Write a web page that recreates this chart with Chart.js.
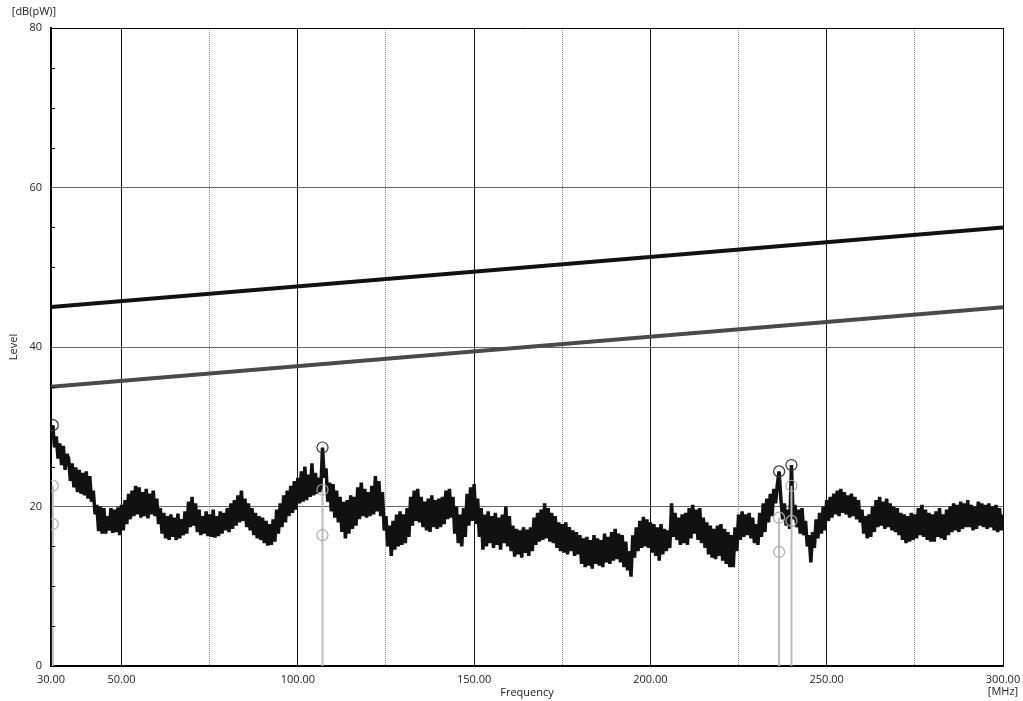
<!DOCTYPE html>
<html>
<head>
<meta charset="utf-8">
<script src="https://cdn.jsdelivr.net/npm/chart.js@4.4.1/dist/chart.umd.min.js"></script>
<style>
  html, body { margin: 0; padding: 0; background: #fff; }
</style>
</head>
<body>
<canvas id="chart" width="1023" height="701"></canvas>
<script>
// Axis ticks
const xTickValues = [30, 50, 75, 100, 125, 150, 175, 200, 225, 250, 275, 300];
const xLabelled = [30, 50, 100, 150, 200, 250, 300];
const yMinorTicks = [5, 10, 15, 25, 30, 35, 45, 50, 55, 65, 70, 75];

// Limit lines (level at 30 and 300 MHz)
const limitFreqs = [30, 300];
const limitUpper = [45, 55];
const limitLower = [35, 45];

// Measured trace, one reading every 0.5 MHz from 30 MHz
const traceStartMHz = 30;
const traceStepMHz = 0.5;
const traceLevels = [
  28.8, 30.2, 27.4, 28.8, 26.0, 27.9, 25.2, 27.6, 24.6, 26.6, // 30
  26.0, 23.2, 25.4, 22.4, 24.9, 21.8, 24.6, 21.6, 24.2, 21.4, // 35
  24.4, 21.0, 23.8, 20.6, 22.0, 19.0, 20.2, 16.9, 20.0, 16.6, // 40
  19.8, 16.6, 18.8, 17.0, 19.8, 16.7, 19.6, 16.8, 19.9, 16.4, // 45
  20.2, 17.0, 20.8, 17.8, 21.6, 18.4, 22.0, 18.8, 22.6, 19.0, // 50
  22.4, 18.6, 21.8, 18.8, 22.2, 18.5, 21.6, 19.0, 22.0, 18.8, // 55
  21.0, 17.8, 19.8, 16.6, 19.2, 16.0, 18.8, 15.8, 19.0, 16.2, // 60
  18.6, 15.8, 19.1, 16.0, 18.4, 16.4, 19.4, 16.6, 20.6, 17.4, // 65
  21.2, 17.6, 20.4, 16.8, 19.6, 16.4, 18.8, 16.6, 19.4, 16.3, // 70
  19.0, 16.2, 19.6, 16.1, 18.8, 16.3, 19.4, 16.6, 19.2, 17.0, // 75
  19.8, 16.8, 20.4, 17.2, 20.8, 17.6, 21.4, 18.0, 22.0, 18.2, // 80
  21.0, 17.4, 20.4, 17.0, 19.8, 16.4, 19.2, 16.0, 18.8, 15.8, // 85
  18.6, 15.4, 18.2, 15.1, 17.8, 15.2, 18.4, 15.6, 19.6, 16.6, // 90
  20.4, 17.4, 21.4, 18.0, 22.0, 18.8, 22.6, 19.2, 23.2, 19.6, // 95
  23.6, 20.4, 24.4, 20.6, 25.0, 20.8, 24.0, 21.2, 25.4, 21.4, // 100
  24.2, 21.6, 23.6, 21.8, 27.4, 23.6, 24.8, 20.6, 23.0, 19.4, // 105
  22.8, 18.6, 22.0, 18.0, 21.2, 16.8, 20.6, 16.0, 20.8, 16.6, // 110
  21.4, 17.2, 21.2, 17.6, 22.4, 18.4, 23.0, 18.8, 22.2, 18.6, // 115
  21.8, 18.8, 22.6, 19.0, 23.8, 19.4, 23.2, 18.8, 21.8, 17.0, // 120
  18.8, 15.0, 17.6, 13.8, 18.2, 14.6, 19.0, 15.0, 19.4, 15.2, // 125
  19.0, 15.4, 19.8, 16.2, 21.2, 17.6, 22.0, 18.2, 22.2, 18.0, // 130
  21.2, 17.4, 20.6, 17.0, 21.0, 16.8, 21.4, 17.4, 20.8, 17.2, // 135
  21.0, 17.4, 21.2, 17.8, 22.0, 18.4, 22.2, 18.6, 21.2, 16.6, // 140
  20.0, 15.4, 19.0, 15.0, 19.8, 16.2, 21.6, 17.6, 22.4, 18.2, // 145
  22.8, 17.8, 21.0, 16.2, 19.8, 14.6, 19.0, 15.0, 19.4, 15.4, // 150
  18.8, 14.8, 19.2, 15.2, 18.6, 14.6, 19.0, 15.4, 20.0, 15.0, // 155
  18.8, 14.4, 17.6, 13.7, 17.2, 14.0, 17.0, 13.6, 17.4, 14.2, // 160
  17.1, 13.8, 17.4, 14.4, 18.6, 15.2, 19.2, 15.6, 19.6, 15.8, // 165
  20.4, 16.0, 19.8, 15.6, 19.2, 15.4, 18.8, 14.8, 18.0, 14.4, // 170
  17.8, 14.2, 18.0, 14.0, 17.4, 14.4, 17.0, 13.8, 16.8, 14.0, // 175
  16.4, 12.8, 16.0, 12.4, 16.2, 12.6, 15.8, 12.2, 16.4, 12.8, // 180
  16.0, 12.6, 15.8, 12.4, 16.6, 13.0, 16.2, 12.8, 16.8, 13.2, // 185
  17.2, 13.4, 16.6, 13.0, 16.4, 12.4, 15.6, 12.0, 14.4, 11.2, // 190
  16.4, 13.6, 17.4, 14.4, 18.2, 14.8, 18.7, 15.0, 18.4, 14.8, // 195
  18.0, 14.2, 17.8, 13.8, 17.4, 13.2, 17.8, 14.0, 17.2, 14.4, // 200
  17.0, 14.8, 20.4, 16.2, 19.2, 15.8, 18.6, 15.2, 19.0, 15.4, // 205
  19.2, 15.2, 19.8, 16.0, 20.2, 16.6, 19.6, 15.8, 19.8, 15.4, // 210
  18.6, 14.8, 18.0, 14.0, 17.6, 13.6, 17.2, 13.4, 17.6, 13.8, // 215
  17.8, 13.2, 17.2, 12.8, 16.8, 12.4, 16.4, 12.4, 17.4, 14.4, // 220
  19.0, 15.8, 19.4, 16.2, 19.0, 16.4, 19.2, 16.0, 18.6, 15.4, // 225
  17.8, 15.2, 19.2, 16.2, 20.4, 16.8, 21.0, 18.0, 21.6, 18.8, // 230
  22.2, 20.4, 22.8, 24.4, 21.0, 18.4, 20.4, 17.6, 19.6, 17.2, // 235
  25.2, 18.4, 20.2, 17.4, 19.6, 16.6, 19.8, 16.4, 18.2, 15.0, // 240
  16.4, 13.0, 16.8, 14.8, 18.4, 16.0, 19.2, 16.6, 20.0, 17.0, // 245
  20.8, 18.2, 21.2, 18.6, 21.6, 19.0, 22.0, 18.8, 22.2, 19.2, // 250
  21.8, 19.0, 21.4, 18.6, 21.6, 18.8, 21.2, 18.4, 20.8, 18.0, // 255
  19.6, 16.6, 18.8, 16.0, 19.0, 16.2, 20.0, 16.8, 20.8, 17.4, // 260
  21.2, 17.6, 20.6, 17.2, 21.0, 17.4, 20.4, 17.0, 20.0, 16.8, // 265
  19.8, 16.4, 19.2, 15.8, 19.0, 15.4, 18.8, 15.6, 19.2, 15.8, // 270
  19.0, 16.0, 19.8, 16.4, 20.2, 16.2, 19.6, 15.8, 19.2, 15.6, // 275
  19.0, 15.6, 19.4, 16.2, 19.8, 16.0, 19.0, 15.8, 19.6, 16.4, // 280
  20.0, 16.8, 20.4, 17.0, 20.2, 16.8, 20.6, 17.2, 20.4, 17.4, // 285
  20.8, 17.4, 20.2, 17.0, 20.0, 17.2, 20.6, 17.6, 20.4, 17.4, // 290
  20.2, 17.2, 20.4, 17.4, 20.0, 17.0, 20.2, 16.8, 19.8, 17.0, // 295
  19.0                                                        // 300
];

// Final measurement markers
const markerFreqs = [30.5, 107, 236.5, 240];
const peakLevels = [30.2, 27.4, 24.4, 25.2];
const qpLevels = [22.6, 22.1, 18.6, 22.6];
const avgLevels = [17.8, 16.4, 14.3, 18.2];

const textColor = '#222';
const fontFamily = '"Open Sans", "Noto Sans", sans-serif';
const font11 = { family: fontFamily, size: 11 };

const tracePoints = traceLevels.map((v, i) => ({ x: traceStartMHz + i * traceStepMHz, y: v }));
const stemPoints = [];
markerFreqs.forEach((f, i) => {
    stemPoints.push({ x: f, y: 0 }, { x: f, y: Math.max(qpLevels[i], avgLevels[i]) }, { x: f, y: null });
});
const toPoints = levels => markerFreqs.map((f, i) => ({ x: f, y: levels[i] }));

// extra texts and the small minor ticks on the level axis
const extrasPlugin = {
    id: 'extras',
    afterDraw(chart) {
        const { ctx, scales: { x, y } } = chart;
        ctx.save();
        ctx.strokeStyle = '#000';
        ctx.lineWidth = 1;
        yMinorTicks.forEach(v => {
            const py = Math.round(y.getPixelForValue(v)) + 0.5;
            ctx.beginPath();
            ctx.moveTo(x.left, py);
            ctx.lineTo(x.left + 4, py);
            ctx.stroke();
        });
        ctx.fillStyle = textColor;
        ctx.font = '11px ' + fontFamily;
        ctx.textAlign = 'center';
        ctx.textBaseline = 'middle';
        ctx.fillText('[dB(pW)]', 34, 12);
        ctx.fillText('[MHz]', x.getPixelForValue(300), 692);
        ctx.restore();
    }
};

new Chart(document.getElementById('chart').getContext('2d'), {
    type: 'scatter',
    data: {
        datasets: [
            {
                data: toPoints(peakLevels), showLine: false, order: 0,
                pointRadius: 5.5, pointBorderWidth: 1.2, pointBorderColor: '#333', pointBackgroundColor: 'rgba(0,0,0,0)'
            },
            {
                data: toPoints(qpLevels), showLine: false, order: 0,
                pointRadius: 5.5, pointBorderWidth: 1.2, pointBorderColor: '#aaa', pointBackgroundColor: 'rgba(0,0,0,0)'
            },
            {
                data: toPoints(avgLevels), showLine: false, order: 0,
                pointRadius: 5.5, pointBorderWidth: 1.2, pointBorderColor: '#aaa', pointBackgroundColor: 'rgba(0,0,0,0)'
            },
            {
                data: stemPoints, showLine: true, spanGaps: false, order: 1,
                borderColor: '#bbb', borderWidth: 2, pointRadius: 0
            },
            {
                data: tracePoints, showLine: true, order: 2,
                borderColor: '#111', borderWidth: 3.5, borderJoinStyle: 'bevel', pointRadius: 0, tension: 0
            },
            {
                data: limitFreqs.map((f, i) => ({ x: f, y: limitUpper[i] })), showLine: true, order: 3,
                borderColor: '#111', borderWidth: 4, pointRadius: 0
            },
            {
                data: limitFreqs.map((f, i) => ({ x: f, y: limitLower[i] })), showLine: true, order: 3,
                borderColor: '#4a4a4a', borderWidth: 4, pointRadius: 0
            }
        ]
    },
    options: {
        responsive: false,
        animation: false,
        layout: { padding: { top: 28, right: 20, left: 0, bottom: 0 } },
        plugins: { legend: { display: false }, tooltip: { enabled: false } },
        scales: {
            x: {
                type: 'linear', min: 30, max: 300,
                afterBuildTicks: scale => { scale.ticks = xTickValues.map(v => ({ value: v })); },
                afterFit: scale => { scale.height = 35; scale.paddingRight = 0; },
                ticks: {
                    autoSkip: false, maxRotation: 0, padding: 7, color: textColor, font: font11,
                    callback: v => xLabelled.includes(v) ? v.toFixed(2) : ''
                },
                grid: {
                    drawTicks: false,
                    color: ctx => {
                        const v = ctx.tick ? ctx.tick.value : 0;
                        if (v === 30) return 'rgba(0,0,0,0)';
                        return v % 50 === 0 ? '#111' : '#888';
                    },
                    lineWidth: 1
                },
                border: {
                    color: '#000', width: 2,
                    dash: ctx => (ctx.tick && ctx.tick.value % 50 !== 0) ? [1, 1] : []
                },
                title: { display: true, text: 'Frequency', color: textColor, font: font11, padding: { top: 0, bottom: 2 } }
            },
            y: {
                min: 0, max: 80,
                afterFit: scale => { scale.width = 51; },
                ticks: { stepSize: 20, padding: 9, color: textColor, font: font11 },
                grid: {
                    drawTicks: false,
                    color: ctx => (ctx.tick && ctx.tick.value === 80) ? '#000' : '#666',
                    lineWidth: 1
                },
                border: { color: '#000', width: 2 },
                title: { display: true, text: 'Level', color: textColor, font: font11, padding: { top: 7, bottom: 0 } }
            }
        }
    },
    plugins: [extrasPlugin]
});
</script>
</body>
</html>
